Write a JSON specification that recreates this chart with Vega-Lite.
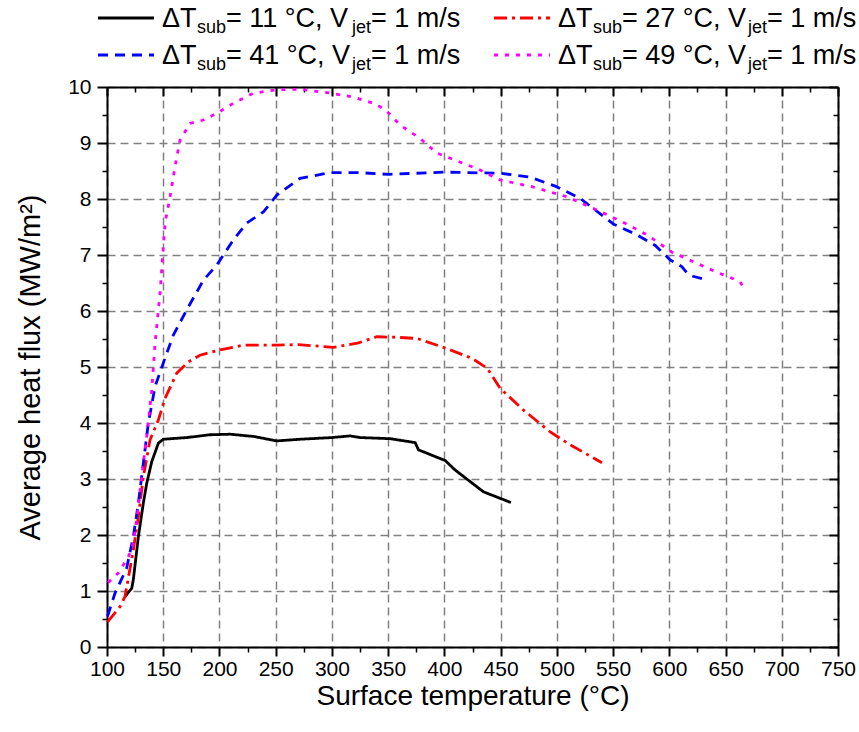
{
  "$schema": "https://vega.github.io/schema/vega-lite/v6.json",
  "width": 731,
  "height": 560,
  "autosize": {"type": "none"},
  "padding": {"left": 107, "top": 87, "right": 21, "bottom": 85},
  "background": "white",
  "config": {
    "font": "Liberation Sans",
    "view": {"stroke": null},
    "axis": {
      "labelFont": "Liberation Sans",
      "titleFont": "Liberation Sans",
      "labelColor": "black",
      "titleColor": "black",
      "titleFontWeight": "normal",
      "domainColor": "black",
      "tickColor": "black"
    }
  },
  "data": {
    "values": [
      {"s": "11", "T": 116.0, "q": 0.90},
      {"s": "11", "T": 122.0, "q": 1.05},
      {"s": "11", "T": 123.4, "q": 1.20},
      {"s": "11", "T": 127.9, "q": 1.97},
      {"s": "11", "T": 132.3, "q": 2.57},
      {"s": "11", "T": 135.3, "q": 2.92},
      {"s": "11", "T": 139.8, "q": 3.31},
      {"s": "11", "T": 145.7, "q": 3.64},
      {"s": "11", "T": 150.1, "q": 3.71},
      {"s": "11", "T": 170.9, "q": 3.74},
      {"s": "11", "T": 191.6, "q": 3.79},
      {"s": "11", "T": 209.4, "q": 3.80},
      {"s": "11", "T": 230.2, "q": 3.76},
      {"s": "11", "T": 251.0, "q": 3.68},
      {"s": "11", "T": 271.7, "q": 3.71},
      {"s": "11", "T": 300.0, "q": 3.74},
      {"s": "11", "T": 316.2, "q": 3.77},
      {"s": "11", "T": 325.1, "q": 3.74},
      {"s": "11", "T": 351.8, "q": 3.72},
      {"s": "11", "T": 374.0, "q": 3.65},
      {"s": "11", "T": 377.0, "q": 3.52},
      {"s": "11", "T": 400.7, "q": 3.33},
      {"s": "11", "T": 409.6, "q": 3.16},
      {"s": "11", "T": 434.8, "q": 2.77},
      {"s": "11", "T": 459.2, "q": 2.58},

      {"s": "27", "T": 100.5, "q": 0.45},
      {"s": "27", "T": 111.6, "q": 0.72},
      {"s": "27", "T": 116.0, "q": 0.90},
      {"s": "27", "T": 123.4, "q": 1.73},
      {"s": "27", "T": 127.9, "q": 2.33},
      {"s": "27", "T": 132.3, "q": 3.04},
      {"s": "27", "T": 138.3, "q": 3.70},
      {"s": "27", "T": 145.6, "q": 4.05},
      {"s": "27", "T": 151.6, "q": 4.44},
      {"s": "27", "T": 162.0, "q": 4.89},
      {"s": "27", "T": 172.3, "q": 5.09},
      {"s": "27", "T": 182.7, "q": 5.21},
      {"s": "27", "T": 199.0, "q": 5.30},
      {"s": "27", "T": 221.3, "q": 5.39},
      {"s": "27", "T": 251.0, "q": 5.39},
      {"s": "27", "T": 270.2, "q": 5.40},
      {"s": "27", "T": 301.3, "q": 5.35},
      {"s": "27", "T": 323.6, "q": 5.43},
      {"s": "27", "T": 339.9, "q": 5.54},
      {"s": "27", "T": 357.7, "q": 5.53},
      {"s": "27", "T": 375.5, "q": 5.51},
      {"s": "27", "T": 402.2, "q": 5.33},
      {"s": "27", "T": 425.0, "q": 5.15},
      {"s": "27", "T": 438.0, "q": 4.98},
      {"s": "27", "T": 449.6, "q": 4.62},
      {"s": "27", "T": 470.4, "q": 4.23},
      {"s": "27", "T": 494.1, "q": 3.84},
      {"s": "27", "T": 511.9, "q": 3.61},
      {"s": "27", "T": 540.1, "q": 3.29},

      {"s": "41", "T": 100.5, "q": 0.55},
      {"s": "41", "T": 107.1, "q": 0.96},
      {"s": "41", "T": 117.5, "q": 1.41},
      {"s": "41", "T": 123.4, "q": 1.97},
      {"s": "41", "T": 127.9, "q": 2.57},
      {"s": "41", "T": 132.3, "q": 3.28},
      {"s": "41", "T": 136.7, "q": 3.99},
      {"s": "41", "T": 142.7, "q": 4.65},
      {"s": "41", "T": 151.6, "q": 5.16},
      {"s": "41", "T": 159.0, "q": 5.57},
      {"s": "41", "T": 170.9, "q": 6.02},
      {"s": "41", "T": 185.7, "q": 6.55},
      {"s": "41", "T": 197.6, "q": 6.82},
      {"s": "41", "T": 212.4, "q": 7.27},
      {"s": "41", "T": 224.3, "q": 7.57},
      {"s": "41", "T": 239.1, "q": 7.77},
      {"s": "41", "T": 251.0, "q": 8.07},
      {"s": "41", "T": 271.7, "q": 8.37},
      {"s": "41", "T": 298.4, "q": 8.47},
      {"s": "41", "T": 325.1, "q": 8.47},
      {"s": "41", "T": 350.3, "q": 8.44},
      {"s": "41", "T": 375.0, "q": 8.46},
      {"s": "41", "T": 400.7, "q": 8.48},
      {"s": "41", "T": 449.6, "q": 8.46},
      {"s": "41", "T": 476.3, "q": 8.39},
      {"s": "41", "T": 498.6, "q": 8.23},
      {"s": "41", "T": 520.8, "q": 8.01},
      {"s": "41", "T": 550.5, "q": 7.55},
      {"s": "41", "T": 571.3, "q": 7.36},
      {"s": "41", "T": 587.5, "q": 7.17},
      {"s": "41", "T": 600.9, "q": 6.91},
      {"s": "41", "T": 611.3, "q": 6.79},
      {"s": "41", "T": 616.6, "q": 6.66},
      {"s": "41", "T": 621.0, "q": 6.62},
      {"s": "41", "T": 629.0, "q": 6.58},

      {"s": "49", "T": 101.0, "q": 1.15},
      {"s": "49", "T": 110.0, "q": 1.32},
      {"s": "49", "T": 119.0, "q": 1.61},
      {"s": "49", "T": 123.4, "q": 1.85},
      {"s": "49", "T": 127.9, "q": 2.51},
      {"s": "49", "T": 130.9, "q": 3.04},
      {"s": "49", "T": 135.3, "q": 3.76},
      {"s": "49", "T": 139.8, "q": 4.59},
      {"s": "49", "T": 142.7, "q": 5.42},
      {"s": "49", "T": 147.2, "q": 6.32},
      {"s": "49", "T": 149.6, "q": 7.03},
      {"s": "49", "T": 151.6, "q": 7.57},
      {"s": "49", "T": 156.1, "q": 8.04},
      {"s": "49", "T": 160.5, "q": 8.58},
      {"s": "49", "T": 164.9, "q": 9.05},
      {"s": "49", "T": 173.8, "q": 9.35},
      {"s": "49", "T": 185.7, "q": 9.41},
      {"s": "49", "T": 197.6, "q": 9.53},
      {"s": "49", "T": 212.4, "q": 9.71},
      {"s": "49", "T": 230.2, "q": 9.89},
      {"s": "49", "T": 251.0, "q": 9.95},
      {"s": "49", "T": 271.7, "q": 9.96},
      {"s": "49", "T": 295.5, "q": 9.90},
      {"s": "49", "T": 319.1, "q": 9.82},
      {"s": "49", "T": 336.9, "q": 9.71},
      {"s": "49", "T": 347.3, "q": 9.60},
      {"s": "49", "T": 360.7, "q": 9.32},
      {"s": "49", "T": 378.5, "q": 9.08},
      {"s": "49", "T": 393.3, "q": 8.82},
      {"s": "49", "T": 412.6, "q": 8.67},
      {"s": "49", "T": 430.4, "q": 8.53},
      {"s": "49", "T": 449.6, "q": 8.34},
      {"s": "49", "T": 477.8, "q": 8.22},
      {"s": "49", "T": 509.0, "q": 8.04},
      {"s": "49", "T": 537.1, "q": 7.79},
      {"s": "49", "T": 562.4, "q": 7.55},
      {"s": "49", "T": 580.2, "q": 7.36},
      {"s": "49", "T": 602.4, "q": 7.05},
      {"s": "49", "T": 624.7, "q": 6.85},
      {"s": "49", "T": 642.5, "q": 6.69},
      {"s": "49", "T": 652.8, "q": 6.61},
      {"s": "49", "T": 663.0, "q": 6.52},
      {"s": "49", "T": 668.0, "q": 6.35}
    ]
  },
  "layer": [
    {
      "mark": {"type": "line", "strokeWidth": 2.8},
      "encoding": {
        "x": {
          "field": "T", "type": "quantitative",
          "scale": {"domain": [100, 750], "nice": false, "zero": false},
          "axis": {
            "orient": "bottom",
            "values": [100, 150, 200, 250, 300, 350, 400, 450, 500, 550, 600, 650, 700, 750],
            "format": "d",
            "grid": true, "gridColor": "#808080", "gridDash": [8, 5], "gridWidth": 1.5,
            "domainWidth": 2, "tickWidth": 2, "tickSize": 9,
            "labelFontSize": 21, "labelPadding": 2, "labelFlush": false, "labelOverlap": false,
            "title": "Surface temperature (°C)", "titleFontSize": 28, "titlePadding": 3
          }
        },
        "y": {
          "field": "q", "type": "quantitative",
          "scale": {"domain": [0, 10], "nice": false, "zero": false},
          "axis": {
            "orient": "left",
            "values": [0, 1, 2, 3, 4, 5, 6, 7, 8, 9, 10],
            "format": "d",
            "grid": true, "gridColor": "#808080", "gridDash": [8, 5], "gridWidth": 1.5,
            "domainWidth": 2, "tickWidth": 2, "tickSize": 10,
            "labelFontSize": 21, "labelPadding": 6, "labelFlush": false, "labelOverlap": false,
            "title": "Average heat flux (MW/m²)", "titleFontSize": 29, "titlePadding": 22
          }
        },
        "color": {
          "field": "s", "type": "nominal",
          "scale": {"domain": ["11", "27", "41", "49"], "range": ["#000000", "#ff0000", "#0000ff", "#ff00ff"]},
          "legend": null
        },
        "strokeDash": {
          "field": "s", "type": "nominal",
          "scale": {"domain": ["11", "27", "41", "49"], "range": [[1, 0], [13, 5, 3, 5], [10, 7], [4, 7]]},
          "legend": null
        }
      }
    },
    {
      "mark": {"type": "point", "opacity": 0},
      "encoding": {
        "x": {
          "field": "T", "type": "quantitative",
          "scale": {"domain": [100, 750], "nice": false, "zero": false},
          "axis": {
            "orient": "bottom",
            "values": [125, 175, 225, 275, 325, 375, 425, 475, 525, 575, 625, 675, 725],
            "labels": false, "grid": false, "domain": false,
            "tickSize": 5, "tickWidth": 1.5, "title": null
          }
        },
        "y": {
          "field": "q", "type": "quantitative",
          "scale": {"domain": [0, 10], "nice": false, "zero": false},
          "axis": {
            "orient": "left",
            "values": [0.5, 1.5, 2.5, 3.5, 4.5, 5.5, 6.5, 7.5, 8.5, 9.5],
            "labels": false, "grid": false, "domain": false,
            "tickSize": 5, "tickWidth": 1.5, "title": null
          }
        }
      }
    },
    {
      "mark": {"type": "point", "opacity": 0},
      "encoding": {
        "x": {
          "field": "T", "type": "quantitative",
          "scale": {"domain": [100, 750], "nice": false, "zero": false},
          "axis": {
            "orient": "top",
            "values": [100, 150, 200, 250, 300, 350, 400, 450, 500, 550, 600, 650, 700, 750],
            "labels": false, "grid": false, "domainWidth": 2,
            "tickSize": -9, "tickWidth": 2, "title": null
          }
        },
        "y": {
          "field": "q", "type": "quantitative",
          "scale": {"domain": [0, 10], "nice": false, "zero": false},
          "axis": {
            "orient": "right",
            "values": [0, 1, 2, 3, 4, 5, 6, 7, 8, 9, 10],
            "labels": false, "grid": false, "domainWidth": 2,
            "tickSize": -9, "tickWidth": 2, "title": null
          }
        }
      }
    },
    {
      "mark": {"type": "point", "opacity": 0},
      "encoding": {
        "x": {
          "field": "T", "type": "quantitative",
          "scale": {"domain": [100, 750], "nice": false, "zero": false},
          "axis": {
            "orient": "top",
            "values": [125, 175, 225, 275, 325, 375, 425, 475, 525, 575, 625, 675, 725],
            "labels": false, "grid": false, "domain": false,
            "tickSize": -5, "tickWidth": 1.5, "title": null
          }
        },
        "y": {
          "field": "q", "type": "quantitative",
          "scale": {"domain": [0, 10], "nice": false, "zero": false},
          "axis": {
            "orient": "right",
            "values": [0.5, 1.5, 2.5, 3.5, 4.5, 5.5, 6.5, 7.5, 8.5, 9.5],
            "labels": false, "grid": false, "domain": false,
            "tickSize": -5, "tickWidth": 1.5, "title": null
          }
        }
      }
    },
    {
      "data": {
        "values": [
          {"s": "11", "col": 0, "row": 0},
          {"s": "27", "col": 1, "row": 0},
          {"s": "41", "col": 0, "row": 1},
          {"s": "49", "col": 1, "row": 1}
        ]
      },
      "transform": [
        {"calculate": "'= ' + datum.s + ' °C, V'", "as": "mid"}
      ],
      "encoding": {
        "x": {"field": "col", "type": "quantitative", "scale": {"domain": [0, 1], "range": [-9, 387]}, "axis": null},
        "y": {"field": "row", "type": "quantitative", "scale": {"domain": [0, 1], "range": [-69, -32]}, "axis": null}
      },
      "layer": [
        {
          "mark": {"type": "rule", "x2Offset": 56, "strokeWidth": 2.8},
          "encoding": {
            "x2": {"field": "col"},
            "color": {"field": "s", "type": "nominal", "legend": null},
            "strokeDash": {"field": "s", "type": "nominal", "legend": null}
          }
        },
        {
          "mark": {"type": "text", "text": "ΔT", "align": "left", "baseline": "alphabetic", "dx": 64, "dy": 9, "fontSize": 27, "color": "black"}
        },
        {
          "mark": {"type": "text", "text": "sub", "align": "left", "baseline": "alphabetic", "dx": 99, "dy": 15, "fontSize": 18, "color": "black"}
        },
        {
          "mark": {"type": "text", "align": "left", "baseline": "alphabetic", "dx": 128, "dy": 9, "fontSize": 27, "color": "black"},
          "encoding": {"text": {"field": "mid", "type": "nominal"}}
        },
        {
          "mark": {"type": "text", "text": "jet", "align": "left", "baseline": "alphabetic", "dx": 254, "dy": 15, "fontSize": 18, "color": "black"}
        },
        {
          "mark": {"type": "text", "text": "= 1 m/s", "align": "left", "baseline": "alphabetic", "dx": 273, "dy": 9, "fontSize": 27, "color": "black"}
        }
      ]
    }
  ],
  "resolve": {
    "scale": {"x": "independent", "y": "independent"},
    "axis": {"x": "independent", "y": "independent"}
  }
}
